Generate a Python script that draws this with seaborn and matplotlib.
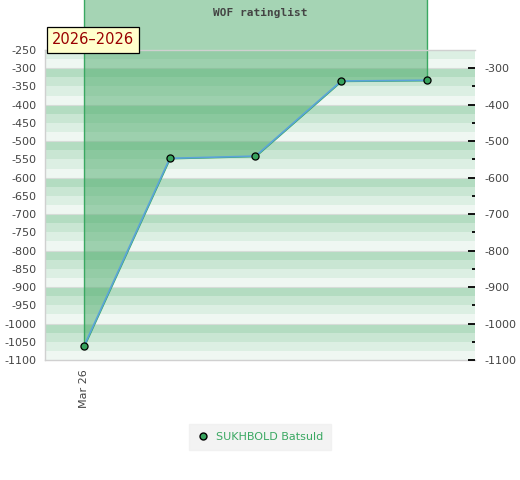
import numpy as np
import pandas as pd
import matplotlib
matplotlib.use("Agg")
import matplotlib.pyplot as plt
import seaborn as sns


# ==========================================
# DATA
# ==========================================

games = [0, 1, 2, 3, 4]
rating = [-1062, -547, -541, -335, -333]
player = "SUKHBOLD Batsuld"
tick_pos = [0]
tick_labels = ["Mar 26"]
period = "2026\u20132026"
title = "WOF ratinglist"

df = pd.DataFrame({"game": games, "rating": rating, "player": player})


# ==========================================
# FIGURE
# ==========================================

sns.set_style("white")
plt.rcParams["font.family"] = ["DejaVu Sans"]
plt.rcParams["axes.unicode_minus"] = False

fig = plt.figure(figsize=(5.2, 4.8), dpi=100)
ax = fig.add_axes([45 / 520, 120 / 480, 430 / 520, 310 / 480])

ax.set_ylim(-1100, -250)
ax.set_xlim(-0.455, 4.56)


# ==========================================
# STRIPED BACKGROUND
# ==========================================

band_colors = {0: "#b3dcc1", 25: "#c9e6d3", 50: "#dcefe3", 75: "#eff7f2"}
for upper in np.arange(-250, -1100, -25):
    ax.axhspan(upper - 25, upper, color=band_colors[int(-upper) % 100],
               lw=0, zorder=0)

for v in np.arange(-300, -1100, -100):
    ax.axhline(v, color="#d6dcd8", lw=0.8, zorder=0.5)


# ==========================================
# AREA + LINE
# ==========================================

ax.fill_between(df["game"], df["rating"], 0,
                facecolor=(0.30, 0.67, 0.42, 0.5),
                edgecolor="#3aa862", lw=1.0,
                clip_on=False, zorder=1)

sns.lineplot(data=df, x="game", y="rating", ax=ax,
             color="#5ba3d9", lw=1.2, zorder=3, legend=False)

ax.scatter(df["game"], df["rating"], s=26, color="#38a35e",
           edgecolor="black", linewidth=0.9, zorder=4, clip_on=False)


# ==========================================
# AXES STYLE
# ==========================================

for side in ["left", "bottom", "top"]:
    ax.spines[side].set_color("#d0d0d0")
    ax.spines[side].set_linewidth(1.0)
ax.spines["right"].set_visible(False)

ax.set_yticks(np.arange(-1100, -249, 50))
ax.tick_params(axis="y", left=False, length=0, pad=6,
               labelsize=8, labelcolor="#444444")

ax.set_xticks(tick_pos)
ax.set_xticklabels(tick_labels, rotation=90, fontsize=8, color="#444444")
ax.tick_params(axis="x", length=0, pad=7)

ax.set_xlabel("")
ax.set_ylabel("")

ax2 = ax.twinx()
ax2.set_ylim(ax.get_ylim())
ax2.set_yticks(np.arange(-1100, -299, 100))
ax2.set_yticks(np.arange(-1050, -349, 100), minor=True)
ax2.tick_params(axis="y", which="major", direction="in", length=5,
                width=1.3, color="black", pad=7,
                labelsize=8, labelcolor="#444444")
ax2.tick_params(axis="y", which="minor", direction="in", length=2.5,
                width=1.3, color="black")
for side in ["left", "bottom", "top", "right"]:
    ax2.spines[side].set_visible(False)


# ==========================================
# TEXTS
# ==========================================

fig.text(0.5, 1 - 13 / 480, title, ha="center", va="center",
         fontsize=8, fontweight="bold", family="DejaVu Sans Mono",
         color="#444444", zorder=10)

fig.text(52 / 520, 1 - 40 / 480, period, ha="left", va="center",
         fontsize=10.5, color="#990000", zorder=10,
         bbox=dict(boxstyle="square,pad=0.35", facecolor="#ffffcc",
                   edgecolor="black", lw=0.9))

handle = plt.Line2D([], [], marker="o", ls="", markersize=5,
                    markerfacecolor="#38a35e", markeredgecolor="black")
leg = fig.legend([handle], [player], loc="center",
                 bbox_to_anchor=(260 / 520, 1 - 437 / 480),
                 frameon=True, fontsize=8, handletextpad=0.6,
                 borderpad=0.4, handlelength=1.2)
leg.get_frame().set_facecolor("#f0f0f0")
leg.get_frame().set_edgecolor("#f0f0f0")
leg.get_frame().set_boxstyle("square")
for t in leg.get_texts():
    t.set_color("#3aa862")

fig.savefig("out.png", dpi=100)
